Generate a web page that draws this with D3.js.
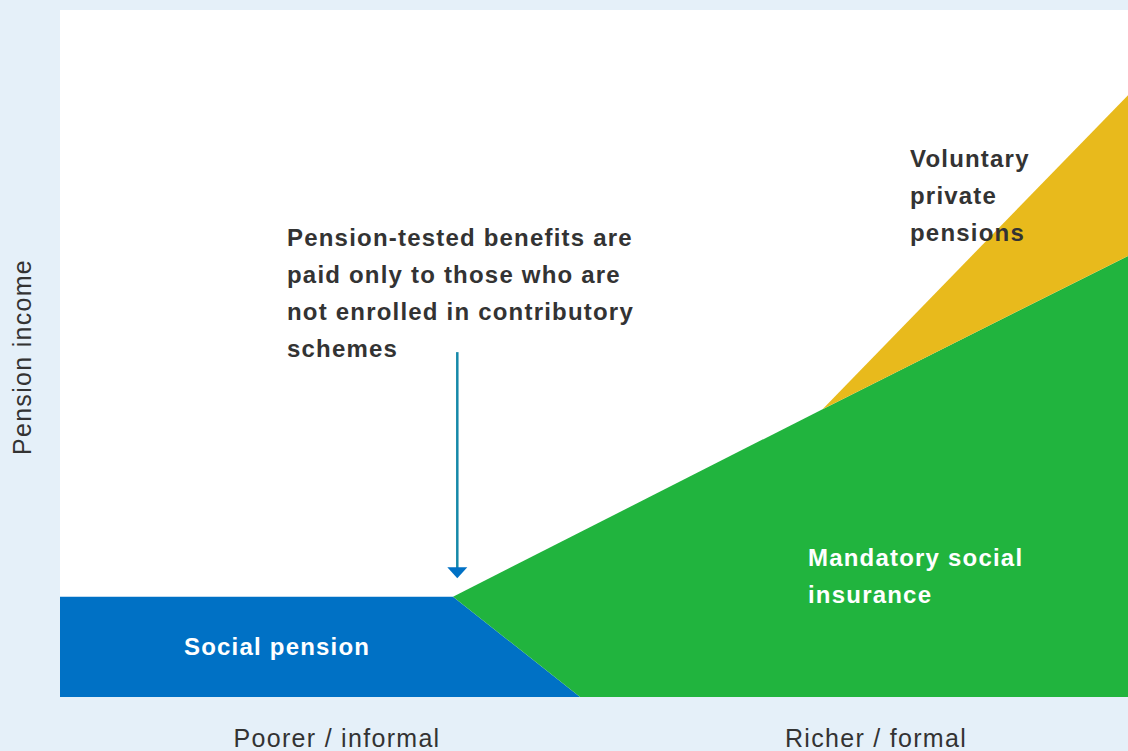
<!DOCTYPE html>
<html>
<head>
<meta charset="utf-8">
<script src="https://cdn.jsdelivr.net/npm/d3@7"></script>
<style>
  html, body { margin: 0; padding: 0; background: #e5f0f9; }
  svg { display: block; }
  text { font-family: "Liberation Sans", Arial, sans-serif; fill: #333; }
</style>
</head>
<body>
<svg id="chart"></svg>
<script>
// region outlines, in "position" (x) and "pension income" (y) units, 0-100
const socialX = [0, 36.8, 48.7, 0];
const socialY = [14.6, 14.6, 0, 0];
const mandatoryX = [36.8, 71.4, 100, 100, 48.7];
const mandatoryY = [14.6, 41.9, 64.2, 0, 0];
const voluntaryX = [71.4, 100, 100];
const voluntaryY = [41.9, 87.6, 64.2];

const arrowX = 37.2, arrowFrom = 50.2, arrowTo = 17.3;

const noteLines = ['Pension-tested benefits are', 'paid only to those who are', 'not enrolled in contributory', 'schemes'];
const voluntaryLines = ['Voluntary', 'private', 'pensions'];
const mandatoryLines = ['Mandatory social', 'insurance'];
const socialLines = ['Social pension'];
const xLabels = ['Poorer / informal', 'Richer / formal'];
const yLabel = 'Pension income';

const W = 1128, H = 751;
const margin = {left: 60, right: 0, top: 10, bottom: 54};

const svg = d3.select('#chart').attr('width', W).attr('height', H);

const x = d3.scaleLinear().domain([0, 100]).range([margin.left, W - margin.right]);
const y = d3.scaleLinear().domain([0, 100]).range([H - margin.bottom, margin.top]);

svg.append('rect')
  .attr('x', x(0)).attr('y', y(100))
  .attr('width', x(100) - x(0)).attr('height', y(0) - y(100))
  .attr('fill', '#fff');

const line = d3.line().x(d => x(d[0])).y(d => y(d[1])).curve(d3.curveLinearClosed);

const regions = [
  {xs: socialX, ys: socialY, color: '#0071c5'},
  {xs: mandatoryX, ys: mandatoryY, color: '#21b43e'},
  {xs: voluntaryX, ys: voluntaryY, color: '#e8ba1c'}
];

svg.append('g')
  .selectAll('path')
  .data(regions)
  .join('path')
    .attr('d', r => line(d3.zip(r.xs, r.ys)))
    .attr('fill', r => r.color);

// arrow
svg.append('line')
  .attr('x1', x(arrowX)).attr('x2', x(arrowX))
  .attr('y1', y(arrowFrom)).attr('y2', y(arrowTo) - 9)
  .attr('stroke', '#1589a9').attr('stroke-width', 2.5);
svg.append('path')
  .attr('d', `M${x(arrowX) - 10},${y(arrowTo) - 11} L${x(arrowX) + 10},${y(arrowTo) - 11} L${x(arrowX)},${y(arrowTo)} Z`)
  .attr('fill', '#0071c5');

function block(lines, px, py, color) {
  svg.append('g').selectAll('text')
    .data(lines)
    .join('text')
      .attr('x', px)
      .attr('y', (d, i) => py + i * 37)
      .style('font-size', '24px')
      .style('font-weight', 'bold')
      .style('letter-spacing', '1.2px')
      .style('fill', color)
      .text(d => d);
}

block(noteLines, 287, 246, '#333');
block(voluntaryLines, 910, 167, '#333');
block(mandatoryLines, 808, 566, '#fff');
block(socialLines, 184, 655, '#fff');

svg.append('g').selectAll('text')
  .data(xLabels)
  .join('text')
    .attr('x', (d, i) => i === 0 ? 337 : 876)
    .attr('y', 747)
    .attr('text-anchor', 'middle')
    .style('font-size', '25px')
    .style('letter-spacing', '1.3px')
    .text(d => d);

svg.append('text')
  .attr('transform', 'translate(31,357) rotate(-90)')
  .attr('text-anchor', 'middle')
  .style('font-size', '25px')
  .style('letter-spacing', '1.3px')
  .text(yLabel);
</script>
</body>
</html>
